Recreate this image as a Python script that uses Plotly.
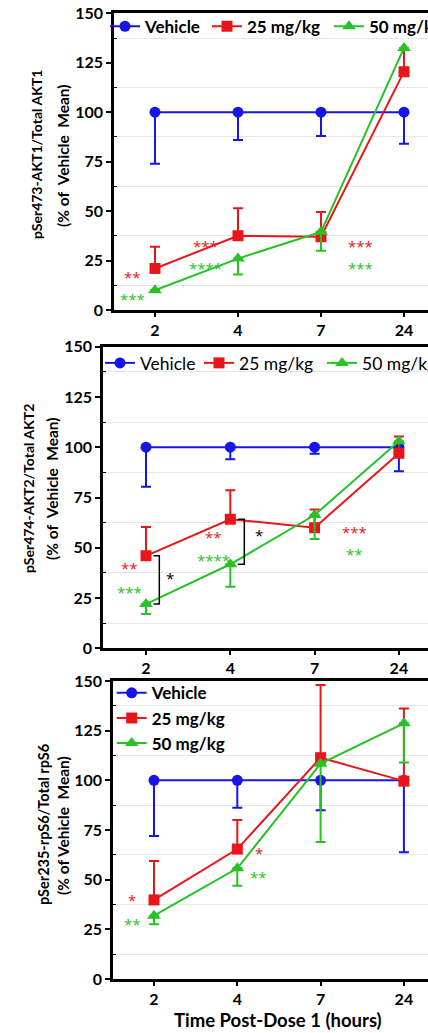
import plotly.graph_objects as go

W, H = 428, 1033

times = ["2", "4", "7", "24"]
groups = ["Vehicle", "25 mg/kg", "50 mg/kg"]
colors = {"Vehicle": "#1515E8", "25 mg/kg": "#E8161B", "50 mg/kg": "#26C226"}
symbols = {"Vehicle": "circle", "25 mg/kg": "square", "50 mg/kg": "triangle-up"}

# Panel 1: pSer473-AKT1 / Total AKT1
akt1_mean = {"Vehicle": [100, 100, 100, 100],
             "25 mg/kg": [21, 37.5, 37, 120.5],
             "50 mg/kg": [10, 26, 39.5, 132.5]}
akt1_up = {"Vehicle": [0, 0, 0, 0],
           "25 mg/kg": [11, 14, 12.5, 12],
           "50 mg/kg": [0, 0, 0, 0]}
akt1_dn = {"Vehicle": [26, 14, 12, 16],
           "25 mg/kg": [0, 0, 0, 0],
           "50 mg/kg": [0, 8, 9.5, 0]}

# Panel 2: pSer474-AKT2 / Total AKT2
akt2_mean = {"Vehicle": [100, 100, 100, 100],
             "25 mg/kg": [46, 64.2, 60, 97],
             "50 mg/kg": [22, 41.8, 66.3, 103]}
akt2_up = {"Vehicle": [0, 0, 0, 0],
           "25 mg/kg": [14.3, 14.4, 9, 8.3],
           "50 mg/kg": [0, 0, 0, 0]}
akt2_dn = {"Vehicle": [19.6, 6, 3.3, 12],
           "25 mg/kg": [0, 0, 0, 0],
           "50 mg/kg": [5, 11.2, 11.9, 0]}

# Panel 3: pSer235-rpS6 / Total rpS6
rps6_mean = {"Vehicle": [100, 100, 100, 100],
             "25 mg/kg": [39.8, 65.4, 111.4, 99.6],
             "50 mg/kg": [31.9, 55.7, 108.4, 128.7]}
rps6_up = {"Vehicle": [0, 0, 0, 0],
           "25 mg/kg": [19.6, 14.6, 36.6, 36.6],
           "50 mg/kg": [0, 0, 0, 0]}
rps6_dn = {"Vehicle": [28, 13.8, 15, 36.2],
           "25 mg/kg": [0, 0, 0, 0],
           "50 mg/kg": [4.4, 8.7, 39.4, 19.7]}

# significance labels: (text, group, x position in category units, y value)
sig1 = [("**", "25 mg/kg", -0.27, 16.7), ("***", "50 mg/kg", -0.27, 5.6),
        ("***", "25 mg/kg", 0.61, 32.3), ("****", "50 mg/kg", 0.61, 21.2),
        ("***", "25 mg/kg", 2.47, 32.3), ("***", "50 mg/kg", 2.47, 21.2)]
sig2 = [("**", "25 mg/kg", -0.19, 39.8), ("***", "50 mg/kg", -0.19, 28.2),
        ("**", "25 mg/kg", 0.80, 55.5), ("****", "50 mg/kg", 0.80, 44.0),
        ("***", "25 mg/kg", 2.47, 58.0), ("**", "50 mg/kg", 2.47, 47.0),
        ("*", "black", 0.29, 35.0), ("*", "black", 1.34, 56.4)]
sig3 = [("*", "25 mg/kg", -0.26, 39.8), ("**", "50 mg/kg", -0.26, 27.5),
        ("*", "25 mg/kg", 1.26, 63.6), ("**", "50 mg/kg", 1.26, 51.2)]

NB = "\u00a0"
ytitles = [("pSer473-AKT1/Total AKT1", f"(%{NB}of{NB}{NB}Vehicle{NB}{NB}Mean)"),
           ("pSer474-AKT2/Total AKT2", f"(%{NB}of{NB}{NB}Vehicle{NB}{NB}Mean)"),
           ("pSer235-rpS6/Total rpS6", f"(%{NB}of{NB}Vehicle{NB}{NB}Mean)")]
xtitle = "Time Post-Dose 1 (hours)"

FONT = "Lato"
STARFONT = "Open Sans"

# pixel geometry of each panel: left, top, bottom, category spacing, title x positions, title center y
panels = [
    dict(left=114, top=13.3, bottom=310, first=155, step=83.0, tx=(37, 63), ty=155, ts=(14, 15.5)),
    dict(left=103, top=346.7, bottom=648.3, first=146, step=84.3, tx=(28, 52), ty=489, ts=(14, 15.5)),
    dict(left=113, top=681, bottom=979, first=154, step=83.3, tx=(43, 63), ty=825, ts=(14.5, 15.5)),
]
datasets = [(akt1_mean, akt1_up, akt1_dn), (akt2_mean, akt2_up, akt2_dn), (rps6_mean, rps6_up, rps6_dn)]
sigs = [sig1, sig2, sig3]

fig = go.Figure()
annotations = []
shapes = []

legend_names = {0: ["legend", "legend2", "legend3"], 1: ["legend4", "legend5", "legend6"], 2: ["legend7"] * 3}

for p, (geo, (mean, up, dn)) in enumerate(zip(panels, datasets)):
    ax = "" if p == 0 else str(p + 1)
    for gi, g in enumerate(groups):
        fig.add_trace(go.Scatter(
            x=times, y=mean[g], mode="lines+markers", name=g,
            xaxis="x" + ax, yaxis="y" + ax,
            line=dict(color=colors[g], width=2),
            marker=dict(symbol=symbols[g], size=11 if g != "50 mg/kg" else 12, color=colors[g]),
            error_y=dict(type="data", symmetric=False, array=up[g], arrayminus=dn[g],
                         color=colors[g], thickness=2, width=5),
            legend=legend_names[p][gi], showlegend=True,
        ))
    x0 = geo["left"] / W
    xmin = -(geo["first"] - geo["left"]) / geo["step"]
    xmax = xmin + (W - geo["left"]) / geo["step"]
    y0 = 1 - geo["bottom"] / H
    y1 = 1 - geo["top"] / H
    tickfont = dict(family=FONT, size=16, color="black", weight="bold")
    fig.update_layout(**{
        "xaxis" + ax: dict(domain=[x0, 1], anchor="y" + ax, type="category",
                           range=[xmin, xmax], showline=True, linecolor="black", linewidth=2.5,
                           mirror=True, ticks="outside", ticklen=4, tickwidth=2, tickcolor="black",
                           tickfont=tickfont, showgrid=False, zeroline=False, fixedrange=True),
        "yaxis" + ax: dict(domain=[y0, y1], anchor="x" + ax, range=[0, 150],
                           tickvals=[0, 25, 50, 75, 100, 125, 150],
                           showline=True, linecolor="black", linewidth=2.5,
                           ticks="outside", ticklen=5, tickwidth=2, tickcolor="black",
                           tickfont=tickfont, showgrid=False, zeroline=False, fixedrange=True,
                           minor=dict(tickvals=[12.5, 37.5, 62.5, 87.5, 112.5, 137.5],
                                      showgrid=True, gridcolor="#E6E6E6", gridwidth=1,
                                      ticks="inside", ticklen=3, tickcolor="black", tickwidth=1)),
    })
    l1, l2 = ytitles[p]
    for txt, xp, sz in zip((l1, l2), geo["tx"], geo["ts"]):
        annotations.append(dict(text=txt, x=xp / W, y=1 - geo["ty"] / H, xref="paper", yref="paper",
                                xanchor="center", yanchor="middle", textangle=-90, showarrow=False,
                                font=dict(family=FONT, size=sz, color="black", weight="bold")))
    for txt, g, xs, ys in sigs[p]:
        col = "black" if g == "black" else colors[g]
        annotations.append(dict(text=txt, x=xs, y=ys, xref="x" + ax, yref="y" + ax,
                                xanchor="center", yanchor="middle", showarrow=False,
                                font=dict(family=STARFONT, size=15, color=col)))

# brackets in panel 2 (between 25 and 50 mg/kg at 2 h and 4 h)
for i, xb in ((0, 0.158), (1, 1.166)):
    ya = akt2_mean["25 mg/kg"][i]
    yb = akt2_mean["50 mg/kg"][i]
    xa = i + 0.09
    shapes.append(dict(type="path", xref="x2", yref="y2",
                       path=f"M {xa} {ya} L {xb} {ya} L {xb} {yb} L {xa} {yb}",
                       line=dict(color="black", width=1.5)))

annotations.append(dict(text=xtitle, x=278 / W, y=1 - 1020 / H, xref="paper", yref="paper",
                        xanchor="center", yanchor="middle", showarrow=False,
                        font=dict(family=FONT, size=18.5, color="black", weight="bold")))

def hleg(xpix, ypix, bold, size):
    return dict(x=xpix / W, y=1 - ypix / H, xanchor="left", yanchor="middle", orientation="h",
                bgcolor="rgba(0,0,0,0)", itemwidth=30,
                font=dict(family=FONT, size=size, color="black", weight="bold" if bold else "normal"))

leg7 = dict(x=(131.7 - 20) / W, y=1 - 718.3 / H, xanchor="left", yanchor="middle", orientation="v",
            bgcolor="rgba(0,0,0,0)", itemwidth=30, tracegroupgap=0,
            font=dict(family=FONT, size=17, color="black", weight="bold"))

fig.update_layout(
    width=W, height=H, margin=dict(l=0, r=0, t=0, b=0, autoexpand=False),
    paper_bgcolor="white", plot_bgcolor="white",
    annotations=annotations, shapes=shapes,
    legend=hleg(125 - 20, 26.7, True, 17), legend2=hleg(227 - 20, 26.7, True, 17),
    legend3=hleg(349 - 20, 26.7, True, 17),
    legend4=hleg(120 - 20, 363, False, 17.5), legend5=hleg(219 - 20, 363, False, 17.5),
    legend6=hleg(342 - 20, 363, False, 17.5),
    legend7=leg7,
    font=dict(family=FONT),
)

fig.write_html("out.html", config={"displayModeBar": False},
               post_script="document.body.style.margin='0';document.body.style.overflow='hidden';")
